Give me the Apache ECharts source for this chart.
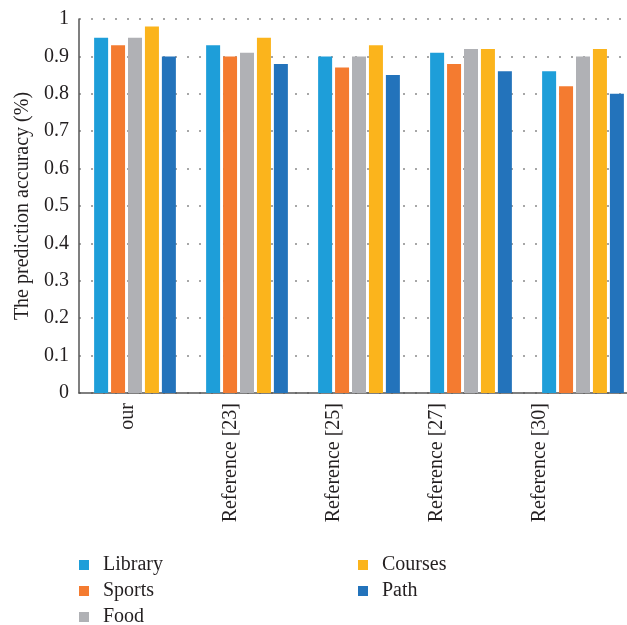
<!DOCTYPE html>
<html>
<head>
<meta charset="utf-8">
<script src="https://cdn.jsdelivr.net/npm/echarts@6/dist/echarts.min.js"></script>
<style>
  html, body { margin: 0; padding: 0; background: #fff; }
  #chart { width: 627px; height: 625px; }
</style>
</head>
<body>
<div id="chart"></div>
<script>
// Methods compared
const categories = ['our', 'Reference [23]', 'Reference [25]', 'Reference [27]', 'Reference [30]'];

// Prediction accuracy per scenario
const library = [0.95, 0.93, 0.90, 0.91, 0.86];
const sports  = [0.93, 0.90, 0.87, 0.88, 0.82];
const food    = [0.95, 0.91, 0.90, 0.92, 0.90];
const courses = [0.98, 0.95, 0.93, 0.92, 0.92];
const path    = [0.90, 0.88, 0.85, 0.86, 0.80];

const seriesNames = ['Library', 'Sports', 'Food', 'Courses', 'Path'];
const seriesValues = [library, sports, food, courses, path];
const colors = ['#1e9ed9', '#f47b30', '#b0b1b5', '#fbb41c', '#2373bb'];

const FONT = '"Liberation Serif", "DejaVu Serif", serif';
const TXT = '#231f20';

const chart = echarts.init(document.getElementById('chart'), null, { renderer: 'canvas' });

const legendCommon = {
  orient: 'vertical',
  icon: 'rect',
  itemWidth: 10,
  itemHeight: 10,
  itemGap: 6,
  padding: 0,
  height: 100,
  selectedMode: false,
  textStyle: { fontFamily: FONT, fontSize: 20, color: TXT, lineHeight: 20, padding: [0, 0, 0, 9] }
};

chart.setOption({
  animation: false,
  color: colors,
  legend: [
    Object.assign({}, legendCommon, { data: seriesNames.slice(0, 3), left: 79, top: 555 }),
    Object.assign({}, legendCommon, { data: seriesNames.slice(3), left: 358, top: 555 })
  ],
  grid: [
    // bar area; the category band runs a little past the right edge
    { left: 79, width: 560, top: 19, bottom: 232, containLabel: false, outerBoundsMode: 'none' },
    // band used only to place the rotated category labels
    { left: 76.5, width: 515, top: 19, bottom: 232, containLabel: false, outerBoundsMode: 'none' }
  ],
  xAxis: [
    {
      type: 'category',
      gridIndex: 0,
      data: categories,
      axisLine: { lineStyle: { color: '#555', width: 1.5 } },
      axisTick: { show: false },
      axisLabel: { show: false }
    },
    {
      type: 'category',
      gridIndex: 1,
      data: categories,
      axisLine: { show: false },
      axisTick: { show: false },
      axisLabel: {
        rotate: 90,
        margin: 10,
        fontFamily: FONT,
        fontSize: 20,
        color: TXT
      }
    }
  ],
  yAxis: [
    {
      type: 'value',
      gridIndex: 0,
      min: 0,
      max: 1,
      interval: 0.1,
      name: 'The prediction accuracy (%)',
      nameLocation: 'middle',
      nameGap: 42,
      nameTextStyle: { fontFamily: FONT, fontSize: 20, color: TXT },
      axisLine: { show: true, lineStyle: { color: '#555', width: 1.5 } },
      axisTick: { show: false },
      axisLabel: {
        margin: 10,
        fontFamily: FONT,
        fontSize: 20,
        color: TXT,
        formatter: v => (Math.round(v * 10) / 10).toString()
      },
      splitLine: {
        show: true,
        lineStyle: { color: '#8a8a8a', width: 1.5, type: [2, 10] }
      }
    },
    { type: 'value', gridIndex: 1, show: false, min: 0, max: 1 }
  ],
  series: seriesNames.map((name, i) => ({
    name: name,
    type: 'bar',
    xAxisIndex: 0,
    yAxisIndex: 0,
    data: seriesValues[i],
    barWidth: 14,
    barGap: '21%',
    itemStyle: { color: colors[i] }
  }))
});
</script>
</body>
</html>
